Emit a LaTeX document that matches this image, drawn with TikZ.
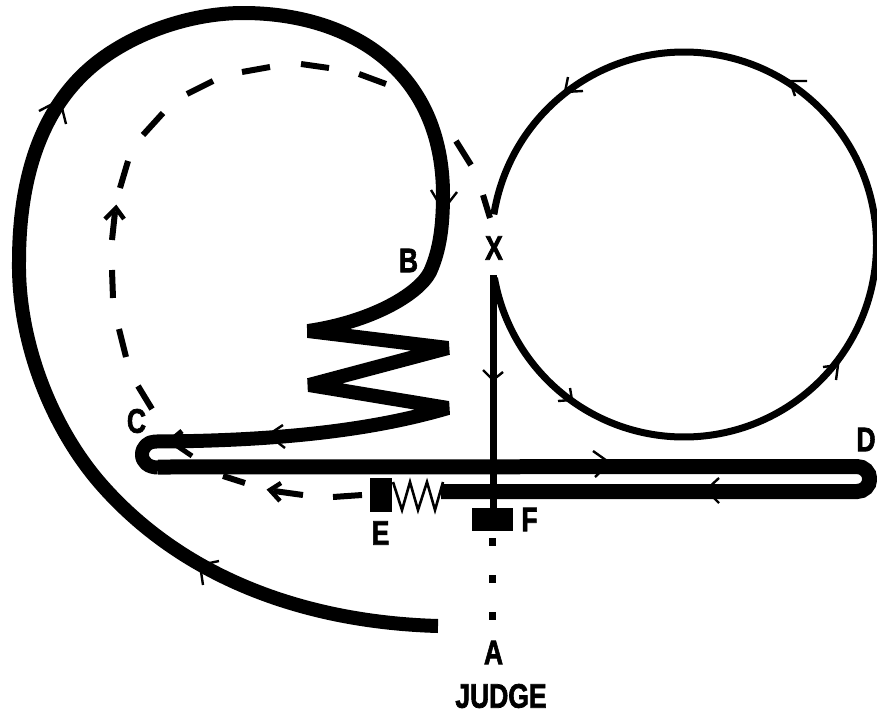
\documentclass[tikz,border=0pt]{standalone}
\usepackage{fontspec}
\setmainfont{Liberation Sans}
\newfontfamily\lblfont[BoldFont=*,BoldFeatures={FakeBold=2.2}]{Liberation Sans Bold}
\tikzset{
  x=1pt,y=-1pt,
  track/.style={line width=14pt,line join=bevel,line cap=butt},
  band/.style={line width=15pt,line cap=butt},
  thin track/.style={line width=7pt,line cap=butt},
  chev/.style={line width=2.4pt,miter limit=10},
  dsh/.style={line width=6pt,line cap=butt},
  dshhead/.style={line width=4.5pt},
  lbl/.style={inner sep=0pt,xscale=.78,font=\fontsize{34}{34}\selectfont\lblfont\bfseries},
  blk/.style={fill=black,draw=none},
}
\begin{document}
\begin{tikzpicture}
\useasboundingbox (0,0) rectangle (877,715);
\clip (0,0) rectangle (877,715);
% main track
\draw[track] (438,626) .. controls (300,622) and (180,575) .. (100,483)
  .. controls (50,425) and (18,340) .. (19,262)
  .. controls (19,180) and (40,105) .. (100,60)
  .. controls (140,30) and (195,13) .. (243,13)
  .. controls (350,13) and (443,70) .. (443,195)
  .. controls (443,225) and (440,250) .. (430,272)
  .. controls (418,295) and (370,322) .. (308,331)
  -- (448,348) -- (309,385) -- (448,408)
  .. controls (380,428) and (290,441) .. (155,441.5)
  .. controls (148,441.5) and (142,447) .. (142,454.5)
  .. controls (142,462) and (148,467.5) .. (158,467.5);
\draw[band] (158,467) -- (857,466.5) .. controls (864,466.5) and (869.7,472) .. (869.7,479)
  .. controls (869.7,486) and (864,491.5) .. (857,491.5) -- (441,491.5);
% circle
\draw[thin track] plot[domain=171:-170,samples=200,smooth] ({684+192.5*cos(\x)},{244.5-192.5*sin(\x)});
% vertical
\draw[thin track] (493,275) -- (493,520);
% boxes and dots
\node[blk,minimum width=41pt,minimum height=23pt,inner sep=0pt] (F) at (492.5,519.5) {};
\node[blk,minimum width=22pt,minimum height=34pt,inner sep=0pt] (E) at (381,495) {};
\foreach \y/\n in {542/a,579/b,616/c}
  \node[blk,minimum size=7.5pt,inner sep=0pt] (dot\n) at (492.5,\y) {};
% spring
\draw[line width=2.6pt,miter limit=10] (393,482) -- (402,510) -- (410,482) -- (418,510) -- (427,482) -- (435,510) -- (443,482);
% dashes
\foreach \ax/\ay/\bx/\by in {483/195/490/218,456/141/471/165,359/74/386/84,301/64/329/68,242/72/270/67,187/94/213/81,143/135/163/113,120/188/128/161,112/240/115/212,112/270/113/298,119/329/126/357,138/386/152/409,223/476/245/483,303/495/274/491,362/495/333/497}
  \draw[dsh] (\ax,\ay) -- (\bx,\by);
\draw[dshhead] (105,219) -- (116,208) -- (124,219);
\draw[dshhead] (281,483) -- (270,490) -- (280,501);
% arrowheads
\foreach \ax/\ay/\bx/\by/\cx/\cy in {39/111/60/100/66/124,431/190/443/210/457/192,219/561/200/565/203/585,283/425/268/435/285/448,483/370/493/380/503/372,593/451/610/463/595/477,719/478/706/490/719/503,558/401/572/400/570/388,823/367/838/365/836/380,807/81/790/81/795/96,568/77/565/92/583/91}
  \draw[chev] (\ax,\ay) -- (\bx,\by) -- (\cx,\cy);
\draw[line width=5pt,miter limit=10] (182,431) -- (170,441) -- (192,456);
% labels
\node[lbl] (B) at (408.5,260.5) {B};
\node[lbl] (X) at (494,248) {X};
\node[lbl] (C) at (136.5,421) {C};
\node[lbl] (D) at (866,439.5) {D};
\node[lbl] (Elbl) at (380.5,533) {E};
\node[lbl] (Flbl) at (529.5,519.5) {F};
\node[lbl] (A) at (493.5,652.5) {A};
\node[lbl] (J) at (501,696) {JUDGE};
\end{tikzpicture}
\end{document}
